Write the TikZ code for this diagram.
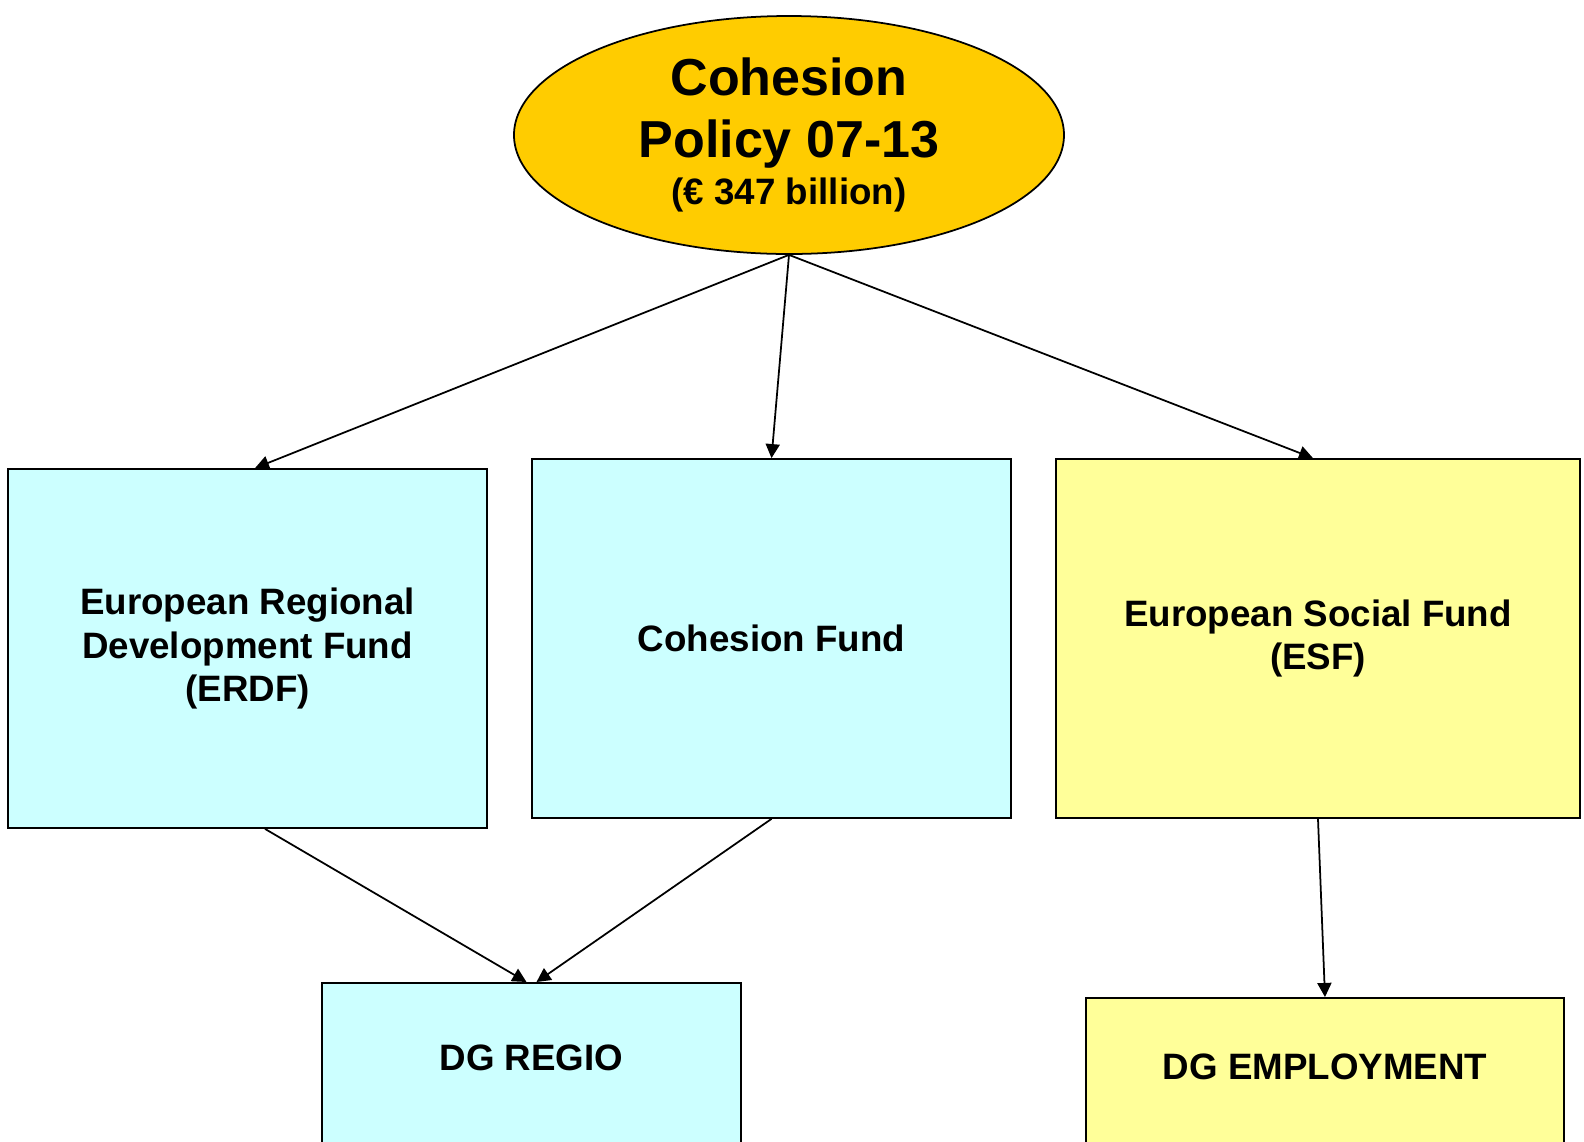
\documentclass[tikz,border=0pt]{standalone}
\usepackage{fontspec}
\setmainfont{Liberation Sans}
\usepackage{xcolor}
\usetikzlibrary{shapes,arrows.meta}

\definecolor{policygold}{HTML}{FFCC00}
\definecolor{fundcyan}{HTML}{CCFFFF}
\definecolor{fundyellow}{HTML}{FFFF99}

\begin{document}
\begin{tikzpicture}[
  policy/.style={ellipse, draw, line width=1pt, fill=policygold, inner sep=0pt,
    minimum width=11cm, minimum height=4.76cm, align=center,
    font=\bfseries\fontsize{29.6}{35.2}\selectfont},
  fund/.style={draw, line width=1pt, inner sep=0pt, align=center,
    minimum height=7.18cm, font=\bfseries\fontsize{20.9}{24.9}\selectfont},
  dgbox/.style={draw, line width=1pt, inner sep=0pt, anchor=north, text depth=3cm,
    font=\bfseries\fontsize{20.9}{24.9}\selectfont},
  flow/.style={-{Triangle[length=8pt,width=8pt]}, line width=1pt}
]

% Canvas
\useasboundingbox (0,0) rectangle (31.68,-22.82);
\clip (0,0) rectangle (31.68,-22.82);

% Policy
\node[policy] (policy) at (15.78,-2.7)
  {Cohesion\\ Policy 07-13\\[-0.3cm]
   \fontsize{20.9}{25}\selectfont (€ 347 billion)};

% Funds
\node[fund, fill=fundcyan, minimum width=9.58cm] (erdf) at (4.95,-12.97)
  {European Regional\\ Development Fund\\ (ERDF)};
\node[fund, fill=fundcyan, minimum width=9.58cm] (cf) at (15.43,-12.77) {Cohesion Fund};
\node[fund, fill=fundyellow, minimum width=10.48cm] (esf) at (26.36,-12.77)
  {European Social Fund\\ (ESF)};

% Directorates
\node[dgbox, fill=fundcyan, minimum width=8.38cm, text height=1.76cm] (regio) at (10.63,-19.64) {DG REGIO};
\node[dgbox, fill=fundyellow, minimum width=9.56cm, text height=1.64cm] (empl) at (26.5,-19.94) {DG EMPLOYMENT};

% Arrows
\draw[flow] (policy.south) -- ([xshift=0.15cm]erdf.north);
\draw[flow] (policy.south) -- (cf.north);
\draw[flow] (policy.south) -- ([xshift=-0.1cm]esf.north);
\draw[flow] ([xshift=0.35cm]erdf.south) -- ([xshift=-0.1cm]regio.north);
\draw[flow] (cf.south) -- ([xshift=0.1cm]regio.north);
\draw[flow] (esf.south) -- (empl.north);

\end{tikzpicture}
\end{document}
